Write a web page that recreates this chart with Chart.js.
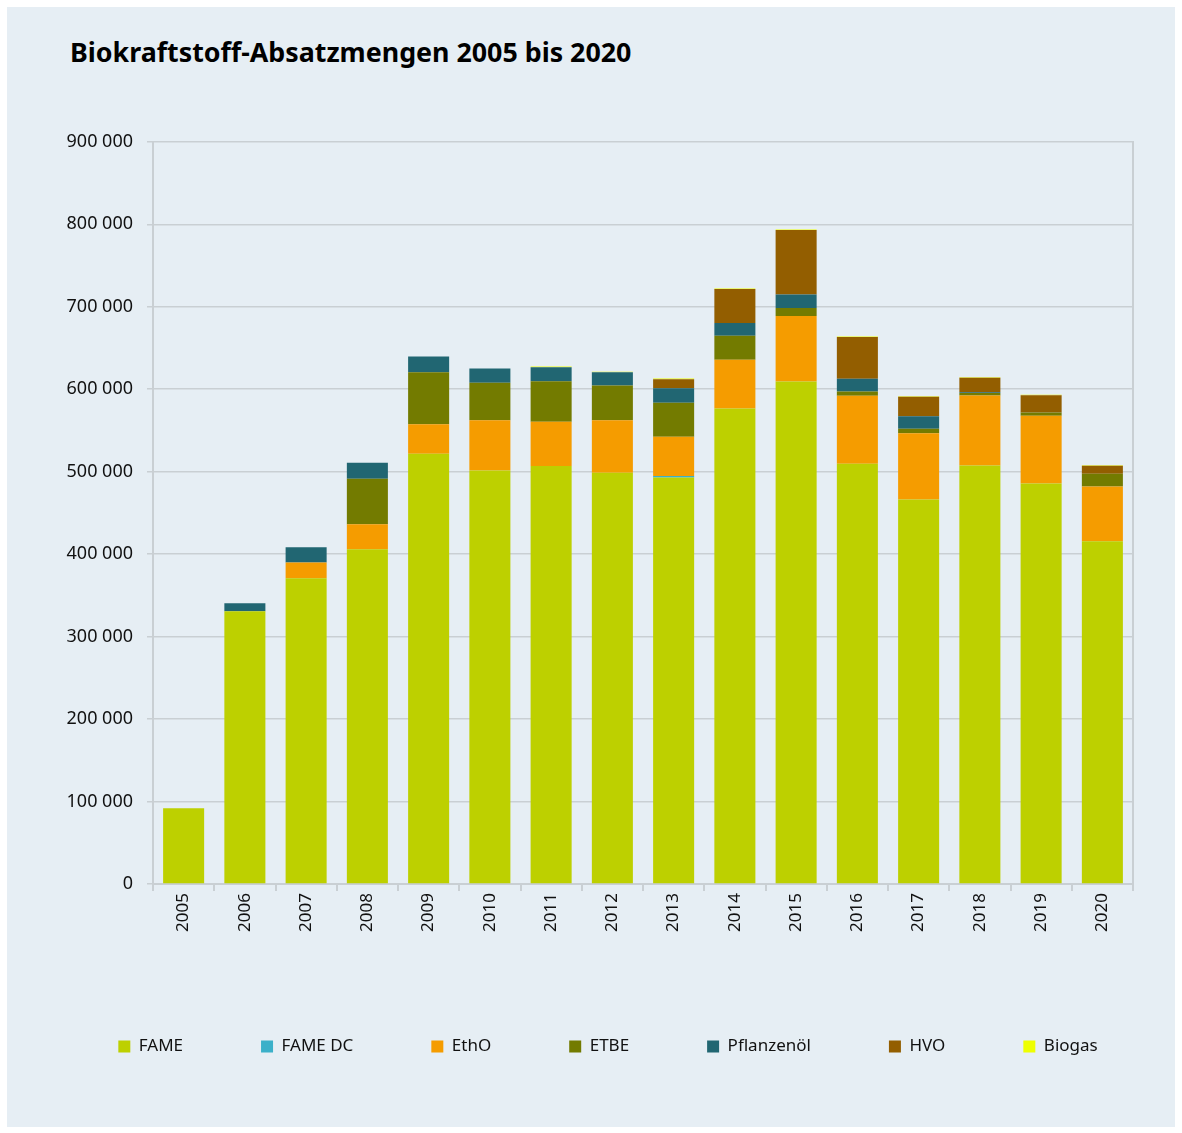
<!DOCTYPE html>
<html>
<head>
<meta charset="utf-8">
<script src="https://cdn.jsdelivr.net/npm/chart.js@4.4.1/dist/chart.umd.min.js"></script>
<style>
  html, body { margin: 0; padding: 0; overflow: hidden; background: #fff; }
  #frame { position: absolute; left: 7px; top: 7px; width: 1168px; height: 1120px; background: #e6eef4; }
  #title { position: absolute; left: 63px; top: 29px; font: bold 26.8px "Noto Sans", sans-serif; line-height: 32px; color: #000; }
  #wrap { position: absolute; left: 17px; top: 110px; width: 1168px; height: 948px; }
</style>
</head>
<body>
<div id="frame">
  <div id="title">Biokraftstoff-Absatzmengen 2005 bis 2020</div>
  <div id="wrap"><canvas id="chart"></canvas></div>
</div>
<script>
// values (tonnes)
const years = ['2005', '2006', '2007', '2008', '2009', '2010', '2011', '2012',
               '2013', '2014', '2015', '2016', '2017', '2018', '2019', '2020'];
const fame   = [92000, 330700, 370700, 405800, 521700, 501500, 506800, 498700, 493000, 576600, 609300, 509600, 466400, 507600, 485800, 415500];
const fameDc = [0, 0, 0, 0, 0, 0, 0, 0, 1600, 0, 0, 0, 0, 0, 0, 0];
const etho   = [0, 0, 19300, 30300, 35900, 61000, 53700, 63800, 47700, 59000, 79600, 82400, 80300, 84800, 82000, 66600];
const etbe   = [0, 0, 0, 55400, 63000, 45200, 49200, 42000, 41200, 29100, 9700, 5200, 5300, 3000, 4000, 15400];
const pflanzenoel = [0, 9700, 18200, 19300, 19000, 17400, 16900, 16100, 17700, 15700, 16100, 15400, 15300, 1000, 0, 0];
const hvo    = [0, 0, 0, 0, 0, 0, 0, 0, 10900, 41000, 78400, 50800, 23500, 17500, 21000, 9700];
const biogas = [0, 0, 0, 0, 0, 0, 900, 600, 1000, 700, 500, 600, 700, 700, 600, 600];

const gridGray = '#c9cfd3';
const FONT = '"Noto Sans", sans-serif';

const formatNumber = (v) => String(v).replace(/\B(?=(\d{3})+(?!\d))/g, ' ');

const makeSet = (label, data, color) => ({
    label: label,
    data: data,
    backgroundColor: color,
    borderWidth: 0
});

const ctx = document.getElementById('chart').getContext('2d');
new Chart(ctx, {
    type: 'bar',
    data: {
        labels: years,
        datasets: [
            makeSet('FAME', fame, '#bdd000'),
            makeSet('FAME DC', fameDc, '#3bb0c9'),
            makeSet('EthO', etho, '#f59c00'),
            makeSet('ETBE', etbe, '#737b00'),
            makeSet('Pflanzenöl', pflanzenoel, '#216672'),
            makeSet('HVO', hvo, '#935e00'),
            makeSet('Biogas', biogas, '#eeff00')
        ]
    },
    options: {
        responsive: true,
        maintainAspectRatio: false,
        animation: false,
        categoryPercentage: 0.67,
        barPercentage: 1,
        layout: { padding: { top: 20, left: 0, right: 0, bottom: 0 } },
        scales: {
            x: {
                stacked: true,
                grid: { drawOnChartArea: false, tickLength: 7, tickColor: gridGray, lineWidth: 2 },
                border: { display: true, color: gridGray, width: 2 },
                ticks: {
                    minRotation: 90, maxRotation: 90, padding: 2,
                    color: '#111', font: { family: FONT, size: 17 }
                },
                afterFit: (scale) => { scale.height = 76; }
            },
            y: {
                stacked: true,
                min: 0,
                max: 900000,
                grid: { color: gridGray, lineWidth: 1.5, tickLength: 6 },
                border: { display: true, color: gridGray, width: 2 },
                ticks: {
                    stepSize: 100000, padding: 14,
                    color: '#111', font: { family: FONT, size: 18 },
                    callback: (v) => formatNumber(v)
                },
                afterFit: (scale) => { scale.width = 129; }
            },
            y2: {
                position: 'right',
                display: true,
                min: 0,
                max: 900000,
                grid: { display: false },
                border: { display: true, color: gridGray, width: 2 },
                ticks: { display: false },
                afterFit: (scale) => { scale.width = 59; }
            }
        },
        plugins: {
            legend: {
                position: 'bottom',
                labels: {
                    boxWidth: 12, boxHeight: 12, padding: 78,
                    color: '#111', font: { family: FONT, size: 17 }
                }
            },
            tooltip: { enabled: false }
        }
    }
});
</script>
</body>
</html>
